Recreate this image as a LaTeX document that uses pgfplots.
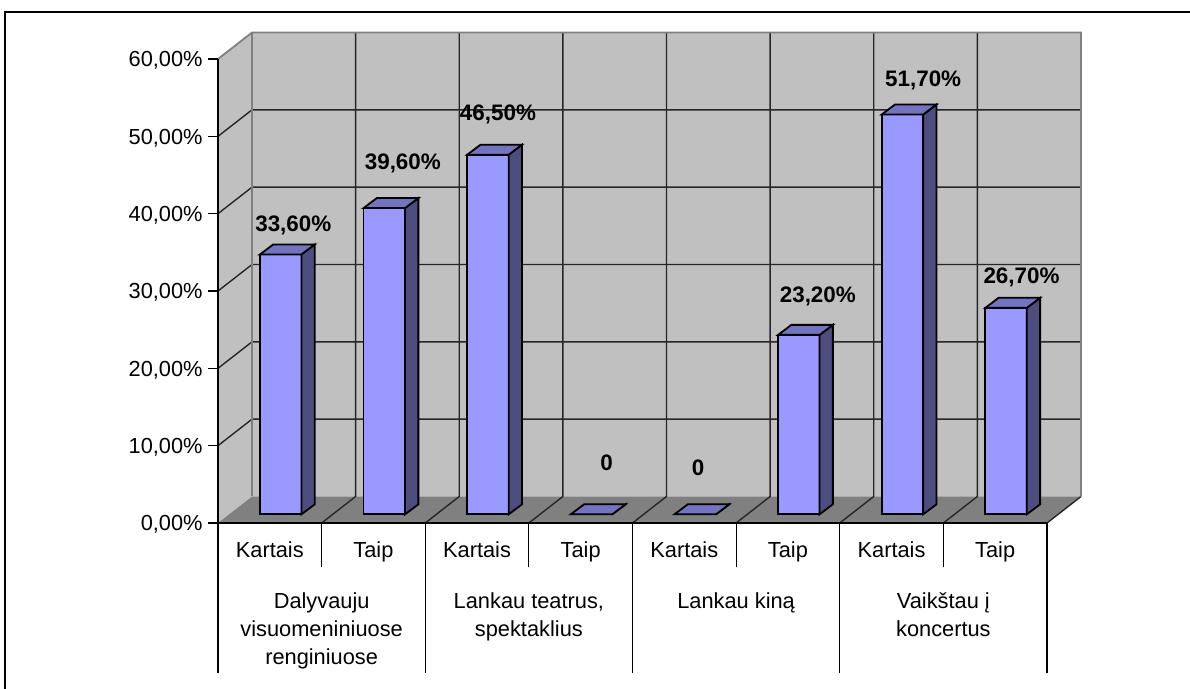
\documentclass[border=0pt]{standalone}
\usepackage{fontspec}
\setmainfont{Liberation Sans}
\usepackage{pgfplots}
\pgfplotsset{compat=1.18}

\definecolor{wallc}{HTML}{C0C0C0}
\definecolor{floorc}{HTML}{808080}
\definecolor{edgec}{HTML}{808080}
\definecolor{barfront}{HTML}{9999FF}
\definecolor{barside}{HTML}{4D4D80}
\definecolor{bartop}{HTML}{7373BF}

% 3D column (side + top faces), drawn at the top-front-centre of each bar
\pgfdeclareplotmark{col3d}{%
  \pgfmathsetmacro\hh{\barval*3.866667}%
  \pgfsetlinewidth{0.9bp}%
  \pgfsetstrokecolor{black}%
  \pgfsetfillcolor{barside}%
  \pgfpathmoveto{\pgfpoint{10.375bp}{0bp}}%
  \pgfpathlineto{\pgfpoint{17.025bp}{5bp}}%
  \pgfpathlineto{\pgfpoint{17.025bp}{(5-\hh)*1bp}}%
  \pgfpathlineto{\pgfpoint{10.375bp}{-\hh*1bp}}%
  \pgfpathclose
  \pgfusepath{fill,stroke}%
  \pgfsetfillcolor{bartop}%
  \pgfpathmoveto{\pgfpoint{-10.375bp}{0bp}}%
  \pgfpathlineto{\pgfpoint{10.375bp}{0bp}}%
  \pgfpathlineto{\pgfpoint{17.025bp}{5bp}}%
  \pgfpathlineto{\pgfpoint{-3.725bp}{5bp}}%
  \pgfpathclose
  \pgfusepath{fill,stroke}%
}

\begin{document}
\fontsize{10.9bp}{14bp}\selectfont
\begin{tikzpicture}
\useasboundingbox (0,0) rectangle (595bp,344.5bp);
% outer frame (left and top edges visible)
\draw[line width=1.2bp] (2.5bp,0) -- (2.5bp,338.5bp) -- (595bp,338.5bp);

\begin{axis}[
  at={(109bp,83bp)}, anchor=south west,
  scale only axis, width=414.5bp, height=232bp,
  xmin=0, xmax=8, ymin=0, ymax=60, enlargelimits=false, clip=false,
  axis on top,
  axis x line*=bottom, axis y line*=left,
  axis line style={line width=0.8bp, black},
  ytick={0,10,20,30,40,50,60},
  yticklabels={{0,00\%},{10,00\%},{20,00\%},{30,00\%},{40,00\%},{50,00\%},{60,00\%}},
  xtick={0.5,1.5,2.5,3.5,4.5,5.5,6.5,7.5},
  xticklabels={Kartais,Taip,Kartais,Taip,Kartais,Taip,Kartais,Taip},
  x tick style={draw=none},
  y tick style={line width=0.8bp, black},
  major tick length=5bp, tick align=outside,
  xticklabel style={anchor=base, inner sep=0pt, yshift=-12.25bp},
  yticklabel style={anchor=base east, inner sep=0pt, xshift=-2.5bp, yshift=-3.9bp},
  /pgf/number format/assume math mode=true,
]
% left wall
\fill[wallc] (axis cs:0,0) -- (axis cs:0,60) -- ++(17bp,13.25bp) -- ++(0,-232bp) -- cycle;
% back wall
\fill[wallc] (axis cs:0,0) ++(17bp,13.25bp) rectangle ++(414.5bp,232bp);
% floor
\fill[floorc] (axis cs:0,0) -- (axis cs:8,0) -- ++(17bp,13.25bp) -- ++(-414.5bp,0) -- cycle;
% horizontal gridlines (left wall + back wall)
\pgfplotsinvokeforeach{10,20,30,40,50}{
  \draw[line width=0.7bp, black!85] (axis cs:0,#1) -- ++(17bp,13.25bp) -- ++(414.5bp,0);
}
% vertical gridlines (floor diagonal + back wall)
\pgfplotsinvokeforeach{1,2,3,4,5,6,7}{
  \draw[line width=0.7bp, black!85] (axis cs:#1,0) -- ++(17bp,13.25bp) -- ++(0,232bp);
}
\draw[line width=0.7bp, black!85] (axis cs:8,0) -- ++(17bp,13.25bp);
% wall edges
\draw[line width=0.9bp, edgec] (axis cs:0,60) -- ++(17bp,13.25bp) -- ++(414.5bp,0) -- ++(0,-232bp);
\draw[line width=0.9bp, edgec] (axis cs:0,0) ++(17bp,13.25bp) -- ++(0,232bp);
% category table lines
\pgfplotsinvokeforeach{1,3,5,7}{
  \draw[line width=0.6bp] (axis cs:#1,0) -- ++(0,-22bp);
}
\pgfplotsinvokeforeach{0,2,4,6,8}{
  \draw[line width=0.6bp] (axis cs:#1,0) -- ++(0,-75bp);
}
% group labels
\node[anchor=north, align=center, inner sep=0pt, yshift=-34.5bp] at (axis cs:1,0) {Dalyvauju\\visuomeniniuose\\renginiuose};
\node[anchor=north, align=center, inner sep=0pt, yshift=-34.5bp] at (axis cs:3,0) {Lankau teatrus,\\spektaklius};
\node[anchor=north, align=center, inner sep=0pt, yshift=-34.5bp] at (axis cs:5,0) {Lankau kiną};
\node[anchor=north, align=center, inner sep=0pt, yshift=-34.5bp] at (axis cs:7,0) {Vaikštau į\\koncertus};
\end{axis}

\begin{axis}[
  at={(114.45bp,87.35bp)}, anchor=south west,
  scale only axis, width=414.5bp, height=232bp,
  xmin=0, xmax=8, ymin=0, ymax=60, enlargelimits=false, clip=false,
  hide axis,
]
\addplot[ybar, bar width=20.75bp, fill=barfront, draw=black, line width=0.9bp]
  table[x=x, y=y] {
x   y
0.5 33.6
1.5 39.6
2.5 46.5
3.5 0
4.5 0
5.5 23.2
6.5 51.7
7.5 26.7
};
\addplot[only marks, mark=col3d,
  visualization depends on={rawy \as \barval},
  visualization depends on={value \thisrow{lx} \as \labx},
  visualization depends on={value \thisrow{ly} \as \laby},
  point meta=explicit symbolic,
  nodes near coords={\bfseries\pgfplotspointmeta},
  every node near coord/.append style={anchor=center, inner sep=0pt,
    font=\fontsize{11.2bp}{13bp}\selectfont,
    xshift=\labx*0.5bp, yshift=\laby*0.5bp, text=black},
] table[x=x, y=y, meta=lab] {
x   y    lab       lx    ly
0.5 33.6 33,60\%   12.6  29.3
1.5 39.6 39,60\%   18.5  45
2.5 46.5 46,50\%   10    40.7
3.5 0    0         15    51.6
4.5 0    0         3     47
5.5 23.2 23,20\%   19    38.3
6.5 51.7 51,70\%   20.7  34.3
7.5 26.7 26,70\%   15.4  30
};
\end{axis}
\end{tikzpicture}
\end{document}
